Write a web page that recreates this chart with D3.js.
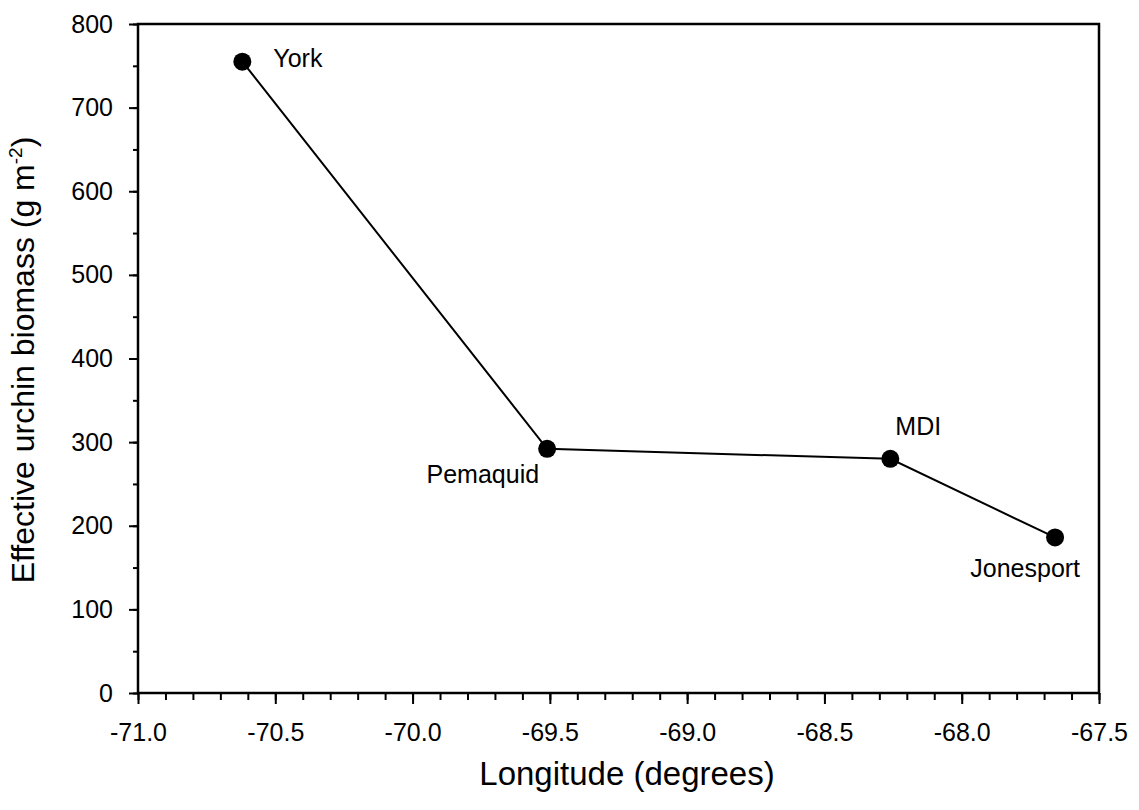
<!DOCTYPE html>
<html>
<head>
<meta charset="utf-8">
<script src="https://cdn.jsdelivr.net/npm/d3@7"></script>
<style>
  html, body { margin: 0; padding: 0; background: #fff; }
  text { font-family: "Liberation Sans", Arial, Helvetica, sans-serif; fill: #000; }
</style>
</head>
<body>
<svg id="chart" width="1139" height="810"></svg>
<script>
// ---- data ----
const sites = ["York", "Pemaquid", "MDI", "Jonesport"];
const longitude = [-70.62, -69.51, -68.26, -67.66];
const biomass = [755, 292, 280, 186];
const xTicks = [-71.0, -70.5, -70.0, -69.5, -69.0, -68.5, -68.0, -67.5];
const yTicks = [0, 100, 200, 300, 400, 500, 600, 700, 800];
const xTitle = "Longitude (degrees)";
const yTitle = "Effective urchin biomass (g m";

// ---- layout ----
const pLeft = 138, pRight = 1099, pTop = 24, pBottom = 693;
const svg = d3.select("#chart");

const x = d3.scaleLinear().domain([-71.0, -67.5]).range([pLeft, pRight]);
const y = d3.scaleLinear().domain([0, 800]).range([pBottom, pTop]);

// minor ticks
const xMinor = d3.range(-71.0, -67.5 + 1e-9, 0.1).map(v => +v.toFixed(1));
const yMinor = d3.range(0, 801, 50);

const gxMinor = svg.append("g").attr("transform", `translate(0,${pBottom})`)
  .call(d3.axisBottom(x).tickValues(xMinor).tickSize(7).tickFormat(""));
gxMinor.select(".domain").remove();
gxMinor.selectAll("line").attr("stroke", "#000").attr("stroke-width", 2);

const gyMinor = svg.append("g").attr("transform", `translate(${pLeft},0)`)
  .call(d3.axisLeft(y).tickValues(yMinor).tickSize(5).tickFormat(""));
gyMinor.select(".domain").remove();
gyMinor.selectAll("line").attr("stroke", "#000").attr("stroke-width", 2);

// major axes
const gx = svg.append("g").attr("transform", `translate(0,${pBottom})`)
  .call(d3.axisBottom(x).tickValues(xTicks).tickSize(11).tickPadding(19).tickFormat(d3.format(".1f")));
gx.select(".domain").remove();
gx.selectAll("line").attr("stroke", "#000").attr("stroke-width", 2);
gx.selectAll("text").attr("font-size", 25).attr("fill", "#000")
  .text(d => d3.format(".1f")(d).replace("\u2212", "-"));

const gy = svg.append("g").attr("transform", `translate(${pLeft},0)`)
  .call(d3.axisLeft(y).tickValues(yTicks).tickSize(9).tickPadding(16).tickFormat(d3.format("d")));
gy.select(".domain").remove();
gy.selectAll("line").attr("stroke", "#000").attr("stroke-width", 2);
gy.selectAll("text").attr("font-size", 25).attr("fill", "#000");

// frame
svg.append("rect")
  .attr("x", pLeft).attr("y", pTop)
  .attr("width", pRight - pLeft).attr("height", pBottom - pTop)
  .attr("fill", "none").attr("stroke", "#000").attr("stroke-width", 2.5);

// data
const pts = sites.map((s, i) => ({ site: s, lon: longitude[i], val: biomass[i] }));

svg.append("path")
  .datum(pts)
  .attr("fill", "none").attr("stroke", "#000").attr("stroke-width", 2)
  .attr("d", d3.line().x(d => x(d.lon)).y(d => y(d.val)));

svg.selectAll("circle.pt").data(pts).enter().append("circle")
  .attr("class", "pt")
  .attr("cx", d => x(d.lon)).attr("cy", d => y(d.val)).attr("r", 9)
  .attr("fill", "#000");

// site labels (offsets in pixels)
const labelOffsets = {
  "York": { dx: 31, dy: 5, anchor: "start" },
  "Pemaquid": { dx: -8, dy: 34, anchor: "end" },
  "MDI": { dx: 5, dy: -24, anchor: "start" },
  "Jonesport": { dx: 25, dy: 40, anchor: "end" }
};
svg.selectAll("text.site").data(pts).enter().append("text")
  .attr("class", "site")
  .attr("x", d => x(d.lon) + labelOffsets[d.site].dx)
  .attr("y", d => y(d.val) + labelOffsets[d.site].dy)
  .attr("text-anchor", d => labelOffsets[d.site].anchor)
  .attr("font-size", 25)
  .text(d => d.site);

// axis titles
svg.append("text")
  .attr("x", 627).attr("y", 785)
  .attr("text-anchor", "middle").attr("font-size", 33)
  .text(xTitle);

const yt = svg.append("text")
  .attr("transform", `translate(34,360) rotate(-90)`)
  .attr("text-anchor", "middle").attr("font-size", 32);
yt.append("tspan").text(yTitle);
yt.append("tspan").attr("font-size", 19).attr("dy", -12).text("-2");
yt.append("tspan").attr("dy", 12).text(")");
</script>
</body>
</html>
